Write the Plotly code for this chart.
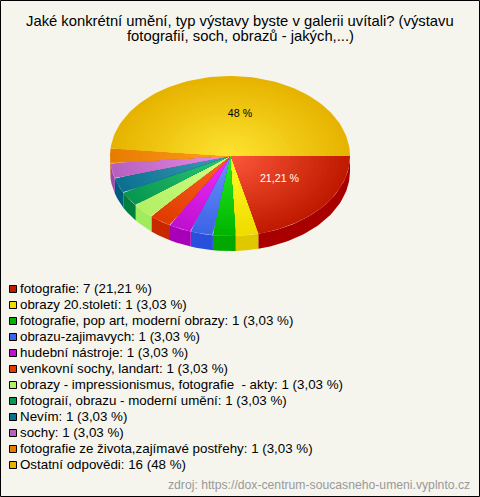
import numpy as np
import plotly.graph_objects as go

categories = ["fotografie", "obrazy 20.století", "fotografie, pop art, moderní obrazy", "obrazu-zajimavych",
              "hudební nástroje", "venkovní sochy, landart", "obrazy - impressionismus, fotografie  - akty",
              "fotograií, obrazu - moderní umění", "Nevím", "sochy", "fotografie ze života,zajímavé postřehy",
              "Ostatní odpovědi"]
values = [7, 1, 1, 1, 1, 1, 1, 1, 1, 1, 1, 16]
percent_labels = ["21,21 %", "3,03 %", "3,03 %", "3,03 %", "3,03 %", "3,03 %", "3,03 %", "3,03 %", "3,03 %", "3,03 %", "3,03 %", "48 %"]
title_lines = ["Jaké konkrétní umění, typ výstavy byste v galerii uvítali? (výstavu", "fotografií, soch, obrazů - jakých,...)"]
edge_colors = ["#c01a00", "#f0dc00", "#00b400", "#3c64e6", "#c010d0", "#e03c00", "#b4f064", "#089850", "#0c7090", "#b860c0", "#e87c00", "#e6b400"]
centre_colors = ["#ff5a3c", "#ffff28", "#28f028", "#6c94ff", "#f030ff", "#ff6428", "#d4ff8c", "#30c878", "#40a0b8", "#e890e8", "#ffa028", "#ffe632"]
side_colors = ["#a80000", "#e0c800", "#00a800", "#2850dc", "#a800b8", "#c82800", "#a0ec5c", "#008040", "#005c7c", "#9c48ac", "#d07000", "#c89c00"]

CX, CY, RX, RY, DEPTH = 230, 156, 120, 80, 15
BG = "#f5f5ee"

fig = go.Figure()
total = sum(values)
bounds = np.cumsum([0] + values) / total * 2 * np.pi

# side walls
for i in range(len(values)):
    a0, a1 = bounds[i], min(bounds[i + 1], np.pi)
    if a0 >= np.pi:
        continue
    t = np.linspace(a0, a1, 40)
    x = CX + RX * np.cos(t)
    y = CY + RY * np.sin(t)
    fig.add_trace(go.Scatter(x=np.r_[x, x[::-1]], y=np.r_[y + DEPTH, y[::-1]], fill="toself", mode="lines",
                             fillcolor=side_colors[i], line=dict(width=0), hoverinfo="skip", showlegend=False))
# top faces, nested wedges give the radial shading
STEPS = 24
for i in range(len(values)):
    t = np.linspace(bounds[i], bounds[i + 1], 80)
    c0 = np.array([int(centre_colors[i][k:k + 2], 16) for k in (1, 3, 5)])
    c1 = np.array([int(edge_colors[i][k:k + 2], 16) for k in (1, 3, 5)])
    for s in range(STEPS, 0, -1):
        f = s / STEPS
        col = c0 + (c1 - c0) * f
        x = np.r_[CX, CX + f * RX * np.cos(t), CX]
        y = np.r_[CY, CY + f * RY * np.sin(t), CY]
        fig.add_trace(go.Scatter(x=x, y=y, fill="toself", mode="lines", fillcolor="rgb(%d,%d,%d)" % tuple(col),
                                 line=dict(width=0), hoverinfo="skip", showlegend=False))

# pie labels
fig.add_trace(go.Scatter(x=[279.5], y=[179], mode="text", text=[percent_labels[0]], textposition="middle center",
                         textfont=dict(family="Liberation Sans", size=10.67, color="#ffffff"), showlegend=False, hoverinfo="skip"))
fig.add_trace(go.Scatter(x=[240], y=[114], mode="text", text=[percent_labels[-1]], textposition="middle center",
                         textfont=dict(family="Liberation Sans", size=10.67, color="#000000"), showlegend=False, hoverinfo="skip"))

# legend
ys = [289 + 16 * i for i in range(len(categories))]
fig.add_trace(go.Scatter(x=[13] * len(ys), y=ys, mode="markers",
                         marker=dict(symbol="square", size=7, color=edge_colors, line=dict(color="#000000", width=1)),
                         showlegend=False, hoverinfo="skip"))
fig.add_trace(go.Scatter(x=[20] * len(ys), y=[v + 1 for v in ys], mode="text", textposition="middle right",
                         text=[f"{c}: {v} ({p})" for c, v, p in zip(categories, values, percent_labels)],
                         textfont=dict(family="Liberation Sans", size=13.33, color="#000000"), showlegend=False, hoverinfo="skip"))

fig.update_layout(
    width=480, height=497, margin=dict(l=0, r=0, t=0, b=0), paper_bgcolor=BG, plot_bgcolor=BG,
    xaxis=dict(range=[0, 480], visible=False, fixedrange=True),
    yaxis=dict(range=[497, 0], visible=False, fixedrange=True),
    shapes=[dict(type="rect", xref="x", yref="y", x0=0.5, y0=0.5, x1=479.5, y1=496.5, line=dict(color="#000000", width=1), fillcolor="rgba(0,0,0,0)")],
    annotations=[
        dict(x=240, y=20.5, xref="x", yref="y", showarrow=False, xanchor="center", yanchor="middle",
             text=title_lines[0], font=dict(family="Liberation Sans", size=14.8, color="#000000")),
        dict(x=240, y=35.5, xref="x", yref="y", showarrow=False, xanchor="center", yanchor="middle",
             text=title_lines[1], font=dict(family="Liberation Sans", size=14.8, color="#000000")),
        dict(x=472, y=484.5, xref="x", yref="y", showarrow=False, xanchor="right", yanchor="middle",
             text="zdroj: https://dox-centrum-soucasneho-umeni.vyplnto.cz",
             font=dict(family="Liberation Sans", size=12.2, color="#999999")),
    ],
)
fig.write_html("out.html", config={"displayModeBar": False},
               post_script="document.body.style.margin='0';document.body.style.overflow='hidden';document.body.style.background='#f5f5ee';")
